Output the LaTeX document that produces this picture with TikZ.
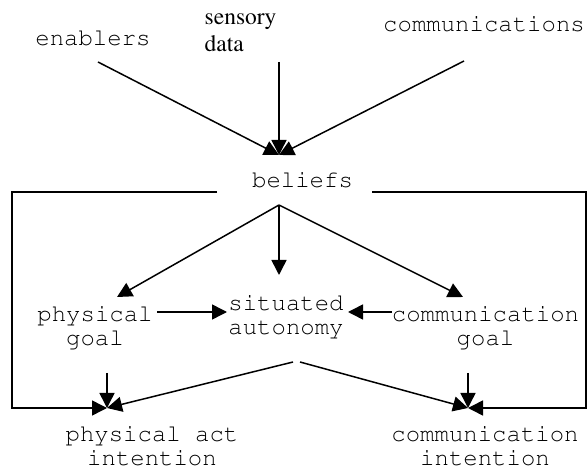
\documentclass[tikz,border=0pt]{standalone}
\usepackage[T1,TU]{fontenc}
\usepackage{fontspec}
\setmainfont{Liberation Serif}
\newcommand{\crfont}{\fontencoding{T1}\fontfamily{pcr}\fontseries{m}\fontshape{n}\fontsize{24}{24}\selectfont}
\newcommand{\tmfont}{\fontencoding{T1}\fontfamily{ptm}\fontseries{m}\fontshape{n}\fontsize{23.5}{27}\selectfont}
\usetikzlibrary{arrows.meta}
\newcommand{\lbl}[2][c]{{\setlength{\tabcolsep}{0pt}\begin{tabular}[t]{#1}#2\end{tabular}}}
\begin{document}
\begin{tikzpicture}[x=1pt,y=-1pt,
  txt/.style={inner sep=0pt,anchor=base,font=\crfont},
  serif/.style={inner sep=0pt,anchor=base west,font=\tmfont},
  conn/.style={line width=1.5pt},
  arr/.style={conn,-{Triangle[length=15pt,width=15pt]}}]
\useasboundingbox (0,0) rectangle (587,470);
% labels
\node[txt] (en) at (93,46) {enablers};
\node[serif] (sd) at (204.5,25) {\lbl[l]{sensory\\data}};
\node[txt] (cm) at (484,32) {communications};
\node[txt] (be) at (302.5,188) {beliefs};
\node[txt] (pg) at (95,322) {\lbl{physical\\goal}};
\node[txt] (sa) at (286,311) {\lbl{situated\\autonomy}};
\node[txt] (cg) at (485.5,322) {\lbl{communication\\goal}};
\node[txt] (pi) at (152,442) {\lbl{physical act\\intention}};
\node[txt] (ci) at (485,442) {\lbl{communication\\intention}};
% connector points
\coordinate (enS) at (98,62);
\coordinate (sdS) at (279,62);
\coordinate (cmS) at (464,61);
\coordinate (beT) at (279,155);
\coordinate (beS) at (279,205);
\coordinate (bxL) at (217,192);
\coordinate (bxR) at (372,192);
\coordinate (pgT) at (117,297);
\coordinate (saT) at (279,275);
\coordinate (cgT) at (463,297);
\coordinate (pgR) at (157,312);
\coordinate (saL) at (227,312);
\coordinate (cgL) at (392,312);
\coordinate (saR) at (348,312);
\coordinate (saBL) at (293,362);
\coordinate (saBR) at (300,362);
\coordinate (pgB) at (107,373);
\coordinate (cgB) at (468,373);
\coordinate (piT) at (107,408);
\coordinate (ciT) at (468,408);
% connectors
\draw[arr] (enS) -- (beT);
\draw[arr] (sdS) -- (beT);
\draw[arr] (cmS) -- (beT);
\draw[arr] (bxL) -- (12,192) -- (12,408) -- (piT);
\draw[arr] (bxR) -- (586,192) -- (586,408) -- (ciT);
\draw[arr] (beS) -- (pgT);
\draw[arr] (beS) -- (saT);
\draw[arr] (beS) -- (cgT);
\draw[arr] (pgR) -- (saL);
\draw[arr] (cgL) -- (saR);
\draw[arr] (saBL) -- (piT);
\draw[arr] (saBR) -- (ciT);
\draw[arr] (pgB) -- (piT);
\draw[arr] (cgB) -- (ciT);
\end{tikzpicture}
\end{document}
